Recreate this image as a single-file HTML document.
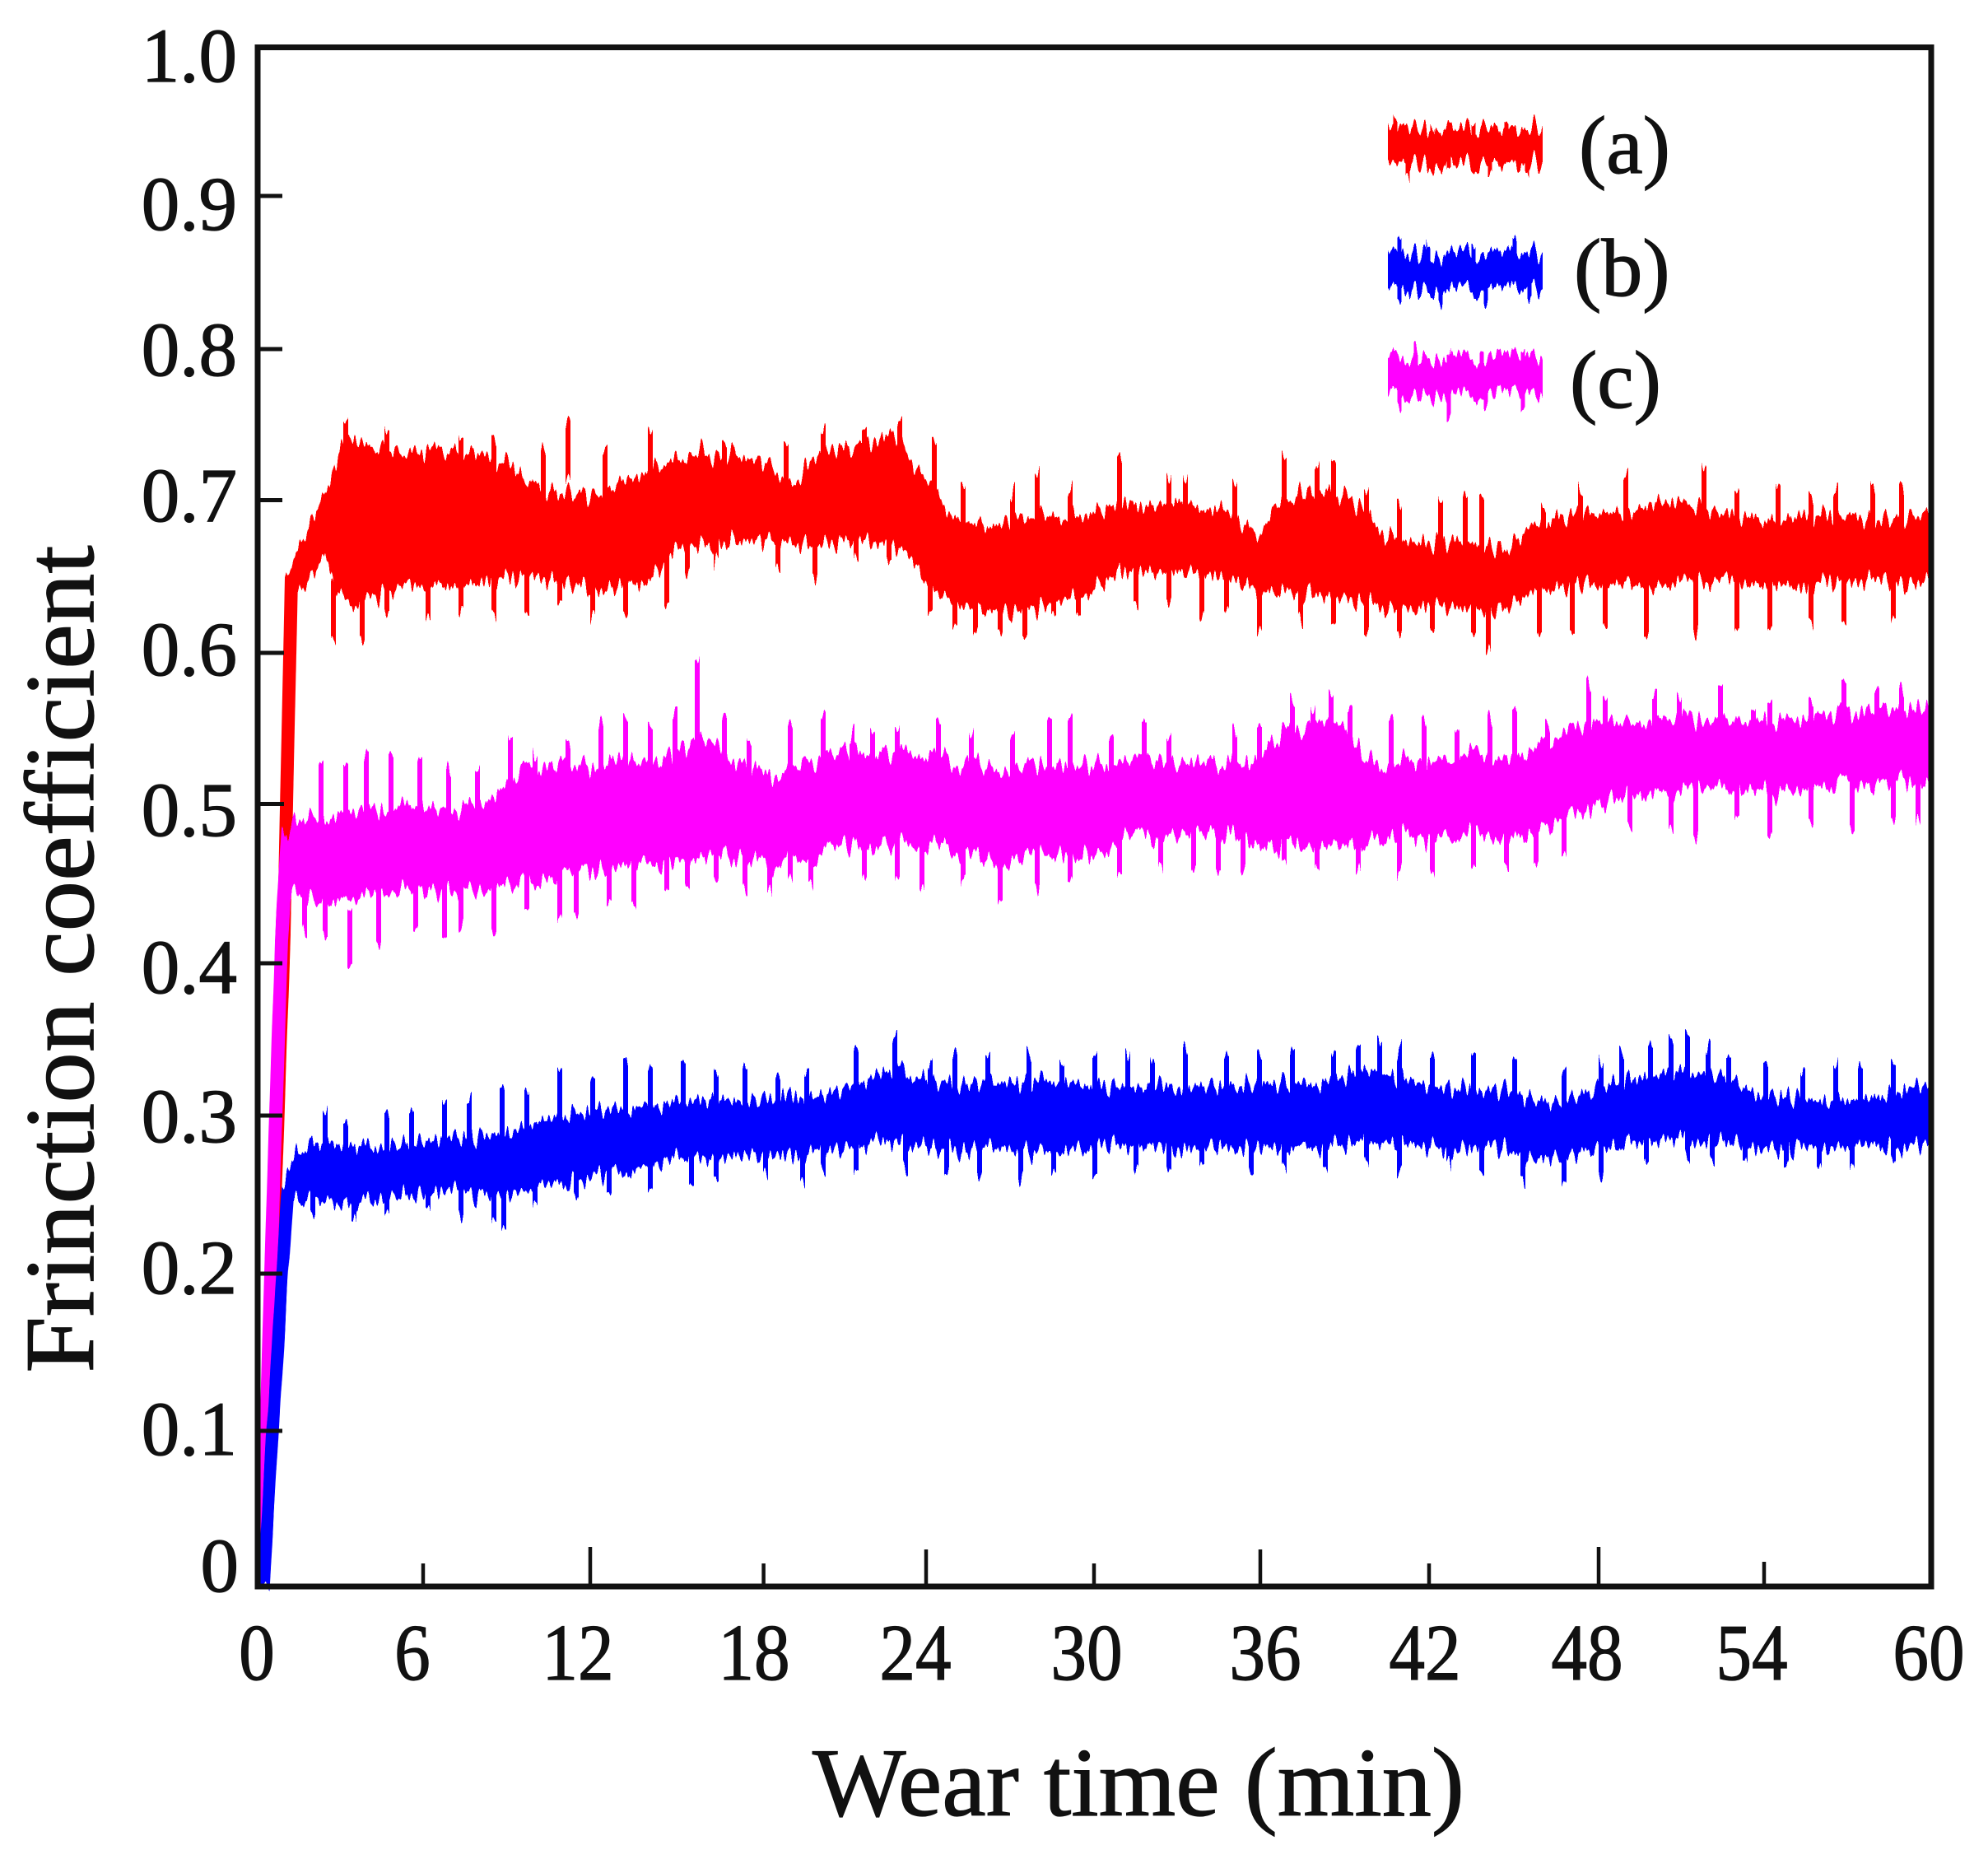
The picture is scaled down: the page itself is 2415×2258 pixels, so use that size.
<!DOCTYPE html>
<html>
<head>
<meta charset="utf-8">
<style>
  html, body { margin: 0; padding: 0; background: #ffffff; }
  body { width: 2415px; height: 2258px; overflow: hidden; }
  svg { display: block; }
  text { font-family: "Liberation Serif", "Times New Roman", serif; fill: #111; stroke: #111; stroke-width: 1.2; }
</style>
</head>
<body>
<svg xmlns="http://www.w3.org/2000/svg" width="2415" height="2258" viewBox="0 0 2415 2258">
  <defs>
    <filter id="jag" filterUnits="userSpaceOnUse" x="0" y="0" width="2415" height="2258" color-interpolation-filters="sRGB">
      <feTurbulence type="fractalNoise" baseFrequency="0.16 0.0015" numOctaves="2" seed="7" result="t"/>
      <feColorMatrix in="t" type="matrix" values="0 0 0 0 0.5  0 1 0 0 0  0 0 0 0 0  0 0 0 0 1" result="d"/>
      <feDisplacementMap in="SourceGraphic" in2="d" scale="52" xChannelSelector="R" yChannelSelector="G"/>
    </filter>
  </defs>
  <rect x="0" y="0" width="2415" height="2258" fill="#ffffff"/>

  <!-- ===== Series (a) red ===== -->
  <g filter="url(#jag)">
    <polyline points="318,1925 345,1130 354,700" fill="none" stroke="#ff0000" stroke-width="16" stroke-linejoin="round"/>
    <polygon fill="#ff0000" points="
      347,705 360,672 380,630 400,590 420,530 440,538 470,545 500,550 530,545 560,552 590,558 620,562 640,585 660,595 690,600 720,603 750,590 780,575 810,562 840,552 870,550 900,553 930,560 950,585 970,585 990,552 1020,545 1050,545 1075,528 1095,525 1110,575 1135,585 1150,625 1180,635 1210,640 1240,630 1270,625 1300,630 1340,618 1370,612 1400,615 1430,612 1460,615 1490,622 1515,640 1530,650 1550,615 1580,600 1610,598 1640,605 1660,625 1680,650 1710,658 1740,660 1770,657 1800,662 1830,668 1860,640 1890,630 1920,625 1950,622 1980,625 2010,612 2040,608 2070,618 2100,625 2130,630 2160,635 2190,628 2220,625 2250,628 2280,632 2310,630 2343,622
      2343,705 2310,712 2280,700 2250,710 2220,705 2190,715 2160,708 2130,712 2100,702 2070,710 2040,705 2010,715 1980,708 1950,712 1920,708 1890,715 1860,720 1830,735 1800,740 1770,738 1740,735 1710,742 1680,738 1650,730 1620,725 1590,722 1560,720 1530,718 1500,705 1470,700 1440,695 1410,698 1380,692 1350,700 1320,722 1290,730 1260,740 1230,745 1200,742 1170,735 1140,725 1120,700 1100,668 1070,660 1040,655 1010,660 990,665 960,660 930,655 900,658 870,660 840,665 820,668 790,705 760,712 730,718 700,710 670,705 640,700 610,703 580,708 550,712 520,710 490,712 460,725 430,735 410,720 395,672 372,712 362,718 350,720"/>
    <path fill="none" stroke="#ff0000" stroke-width="6" d="
      M420 510 V580 M470 520 V590 M560 525 V595 M600 530 V600 M660 545 V615 M690 520 V590 M735 545 V615 M790 522 V592 M880 530 V600 M955 540 V610 M1000 525 V595 M1050 530 V600 M1093 505 V575 M1135 530 V600 M1170 585 V655 M1230 595 V665 M1260 570 V640 M1300 600 V670 M1360 560 V630 M1420 575 V645 M1440 575 V645 M1500 585 V655 M1560 555 V625 M1600 562 V632 M1620 560 V630 M1660 595 V665 M1700 610 V680 M1750 610 V680 M1780 605 V675 M1800 600 V670 M1875 615 V685 M1920 595 V665 M1975 575 V645 M2070 565 V635 M2110 595 V665 M2160 585 V655 M2200 600 V670 M2230 595 V665 M2275 590 V660 M2310 595 V665
      M405 705 V775 M440 710 V780 M470 675 V745 M520 678 V748 M560 668 V738 M600 675 V745 M640 678 V748 M680 660 V730 M720 680 V750 M760 675 V745 M810 665 V735 M835 620 V690 M870 615 V685 M945 615 V685 M990 627 V697 M1040 610 V680 M1080 612 V682 M1130 675 V745 M1160 690 V760 M1185 700 V770 M1215 695 V765 M1245 705 V775 M1280 678 V748 M1310 675 V745 M1380 665 V735 M1420 660 V730 M1460 678 V748 M1490 670 V740 M1530 690 V760 M1580 680 V750 M1620 685 V755 M1660 695 V765 M1700 697 V767 M1740 690 V760 M1790 705 V775 M1808 722 V792 M1870 705 V775 M1910 700 V770 M1950 690 V760 M2000 700 V770 M2060 695 V765 M2110 695 V765 M2150 690 V760 M2200 685 V755 M2240 690 V760 M2300 680 V750"/>
  </g>

  <!-- ===== Series (c) magenta ===== -->
  <g filter="url(#jag)">
    <polyline points="318,1905 342,1130 350,1012" fill="none" stroke="#ff00ff" stroke-width="16" stroke-linejoin="round"/>
    <polygon fill="#ff00ff" points="
      343,1012 367,995 400,990 430,985 460,990 490,985 520,978 550,980 580,975 610,960 630,940 660,930 690,925 720,930 750,920 780,928 820,915 847,895 870,905 890,925 920,935 950,940 980,925 1010,915 1040,910 1070,915 1100,915 1130,920 1160,930 1190,928 1220,932 1250,930 1280,935 1310,930 1340,925 1370,925 1400,922 1430,928 1460,930 1490,930 1520,925 1550,895 1580,885 1610,875 1630,880 1650,905 1670,930 1700,925 1730,925 1760,920 1790,915 1820,915 1850,918 1870,905 1895,895 1910,880 1940,875 1970,878 2000,875 2030,872 2060,878 2090,880 2120,875 2150,872 2180,870 2210,870 2240,865 2270,862 2300,858 2343,860
      2343,950 2310,945 2280,955 2250,950 2220,958 2190,955 2160,962 2130,955 2100,965 2070,960 2040,968 2010,960 1980,965 1950,975 1920,980 1890,1000 1870,1010 1850,1018 1820,1015 1790,1012 1760,1015 1730,1018 1700,1015 1670,1020 1640,1025 1610,1030 1580,1025 1550,1028 1520,1020 1490,1018 1460,1015 1430,1012 1400,1018 1370,1015 1340,1035 1310,1040 1280,1042 1250,1040 1220,1045 1190,1040 1160,1038 1130,1030 1100,1028 1070,1025 1040,1028 1010,1030 980,1045 950,1048 920,1045 890,1042 860,1040 830,1045 800,1050 770,1050 740,1055 710,1055 680,1060 650,1070 620,1075 590,1080 560,1082 530,1080 500,1085 470,1090 440,1095 410,1092 380,1095 360,1090 345,1088"/>
    <path fill="none" stroke="#ff00ff" stroke-width="6" d="
      M390 925 V995 M420 930 V1000 M445 925 V995 M475 920 V990 M510 928 V998 M545 935 V1005 M580 930 V1000 M620 895 V965 M650 910 V980 M690 905 V975 M730 880 V950 M760 870 V940 M790 880 V950 M820 860 V930 M847 800 V900 M880 875 V945 M910 895 V965 M960 890 V960 M1000 870 V940 M1035 890 V960 M1060 880 V950 M1090 885 V955 M1140 880 V950 M1180 890 V960 M1230 890 V960 M1275 878 V948 M1300 875 V945 M1350 890 V960 M1390 880 V950 M1420 895 V965 M1500 895 V965 M1530 875 V945 M1570 855 V925 M1595 860 V930 M1617 843 V913 M1640 860 V930 M1690 875 V945 M1730 870 V940 M1770 880 V950 M1810 870 V940 M1840 863 V933 M1880 880 V950 M1930 830 V900 M1950 845 V915 M2010 840 V910 M2040 850 V920 M2090 840 V910 M2130 860 V930 M2150 845 V915 M2200 850 V920 M2240 835 V905 M2280 838 V908 M2310 842 V912
      M370 1060 V1130 M395 1065 V1135 M425 1105 V1175 M460 1080 V1150 M505 1060 V1130 M540 1070 V1140 M560 1050 V1120 M600 1060 V1130 M640 1040 V1110 M680 1048 V1118 M700 1035 V1105 M740 1020 V1090 M770 1030 V1100 M810 1015 V1085 M835 1000 V1070 M870 997 V1067 M905 1010 V1080 M935 1005 V1075 M960 1012 V1082 M985 1000 V1070 M1050 990 V1060 M1090 1003 V1073 M1120 1008 V1078 M1170 1000 V1070 M1215 1015 V1085 M1260 1010 V1080 M1300 1003 V1073 M1360 992 V1062 M1410 985 V1055 M1450 990 V1060 M1480 982 V1052 M1510 986 V1056 M1560 988 V1058 M1600 985 V1055 M1650 985 V1055 M1700 990 V1060 M1740 988 V1058 M1790 990 V1060 M1830 980 V1050 M1866 975 V1045 M1900 970 V1040 M1980 940 V1010 M2030 935 V1005 M2060 950 V1020 M2110 930 V1000 M2150 940 V1010 M2200 925 V995 M2250 930 V1000 M2300 920 V990 M2330 930 V1000"/>
  </g>

  <!-- ===== Series (b) blue ===== -->
  <g filter="url(#jag)">
    <polyline points="320,1925 342,1560 350,1440 362,1412" fill="none" stroke="#0000ff" stroke-width="15" stroke-linejoin="round"/>
    <polygon fill="#0000ff" points="
      346,1430 360,1398 380,1390 410,1388 440,1390 470,1392 500,1388 530,1385 560,1382 590,1380 620,1375 650,1365 680,1355 710,1350 740,1348 770,1345 800,1342 830,1338 860,1335 890,1338 920,1336 950,1330 980,1335 1010,1328 1040,1315 1070,1305 1090,1295 1110,1310 1140,1315 1170,1318 1200,1312 1230,1316 1260,1312 1290,1315 1320,1318 1350,1320 1380,1322 1410,1318 1440,1322 1470,1318 1500,1320 1530,1316 1560,1315 1590,1318 1620,1312 1650,1300 1680,1305 1710,1312 1740,1318 1770,1322 1800,1325 1830,1322 1860,1335 1890,1340 1920,1330 1950,1320 1980,1312 2010,1305 2040,1302 2070,1305 2100,1310 2130,1328 2160,1332 2190,1335 2220,1338 2250,1336 2280,1332 2310,1325 2343,1315
      2343,1390 2310,1395 2280,1390 2250,1392 2220,1395 2190,1392 2160,1398 2130,1395 2100,1385 2070,1388 2040,1380 2010,1385 1980,1388 1950,1395 1920,1400 1890,1405 1860,1410 1830,1395 1800,1392 1770,1398 1740,1395 1710,1390 1680,1388 1650,1385 1620,1390 1590,1395 1560,1392 1530,1398 1500,1395 1470,1392 1440,1398 1410,1395 1380,1390 1350,1392 1320,1395 1290,1400 1260,1398 1230,1400 1200,1395 1170,1398 1140,1392 1110,1390 1080,1385 1050,1390 1020,1395 990,1400 960,1405 930,1402 900,1405 870,1408 840,1405 810,1410 780,1418 750,1425 720,1430 690,1435 660,1440 630,1448 600,1452 570,1450 540,1448 510,1450 480,1452 450,1455 420,1460 390,1458 365,1455 352,1455"/>
    <path fill="none" stroke="#0000ff" stroke-width="6" d="
      M395 1350 V1410 M420 1365 V1425 M470 1350 V1410 M500 1345 V1405 M540 1335 V1395 M570 1340 V1400 M610 1320 V1380 M640 1325 V1385 M680 1300 V1360 M720 1310 V1370 M760 1290 V1350 M790 1300 V1360 M830 1290 V1350 M870 1300 V1360 M905 1295 V1355 M945 1305 V1365 M980 1298 V1358 M1040 1280 V1340 M1087 1258 V1318 M1130 1290 V1350 M1160 1280 V1340 M1200 1285 V1345 M1250 1280 V1340 M1290 1290 V1350 M1330 1280 V1340 M1370 1278 V1338 M1400 1288 V1348 M1440 1275 V1335 M1490 1285 V1345 M1530 1282 V1342 M1570 1275 V1335 M1620 1285 V1345 M1650 1270 V1330 M1676 1264 V1324 M1700 1275 V1335 M1740 1285 V1345 M1790 1280 V1340 M1840 1290 V1350 M1900 1300 V1360 M1945 1290 V1350 M1970 1275 V1335 M2005 1268 V1328 M2030 1262 V1322 M2050 1258 V1318 M2075 1275 V1335 M2100 1280 V1340 M2145 1290 V1350 M2190 1300 V1360 M2230 1295 V1355 M2260 1298 V1358 M2300 1290 V1350
      M380 1418 V1478 M430 1415 V1475 M470 1410 V1470 M520 1408 V1468 M560 1415 V1475 M600 1425 V1485 M612 1430 V1490 M650 1405 V1465 M700 1398 V1458 M740 1395 V1455 M790 1385 V1445 M840 1380 V1440 M870 1370 V1430 M930 1368 V1428 M975 1372 V1432 M1000 1360 V1420 M1040 1365 V1425 M1100 1358 V1418 M1150 1365 V1425 M1190 1360 V1420 M1240 1368 V1428 M1280 1365 V1425 M1330 1370 V1430 M1380 1358 V1418 M1420 1365 V1425 M1460 1355 V1415 M1520 1362 V1422 M1560 1358 V1418 M1610 1360 V1420 M1660 1358 V1418 M1700 1365 V1425 M1760 1355 V1415 M1800 1360 V1420 M1850 1370 V1430 M1900 1372 V1432 M1945 1365 V1425 M2000 1355 V1415 M2050 1345 V1405 M2080 1350 V1410 M2120 1350 V1410 M2170 1360 V1420 M2210 1355 V1415 M2250 1358 V1418 M2300 1352 V1412"/>
  </g>

  <!-- ===== Legend swatches ===== -->
  <g filter="url(#jag)">
    <rect x="1686" y="157" width="188" height="44" fill="#ff0000"/>
    <path fill="none" stroke="#ff0000" stroke-width="5" d="M1695 145 V170 M1740 148 V170 M1790 143 V170 M1830 150 V170 M1710 190 V215 M1760 190 V212 M1810 190 V214 M1855 190 V210"/>
    <rect x="1686" y="309" width="188" height="44" fill="#0000ff"/>
    <path fill="none" stroke="#0000ff" stroke-width="5" d="M1700 292 V320 M1735 295 V320 M1790 292 V320 M1840 296 V320 M1700 345 V368 M1750 345 V362 M1805 345 V366 M1858 345 V368"/>
    <rect x="1686" y="435" width="188" height="46" fill="#ff00ff"/>
    <path fill="none" stroke="#ff00ff" stroke-width="5" d="M1720 424 V445 M1760 426 V445 M1800 424 V445 M1850 426 V445 M1700 470 V495 M1760 470 V502 M1805 470 V490 M1850 470 V497"/>
  </g>
  <text x="1918" y="210" font-size="100">(a)</text>
  <text x="1912" y="359" font-size="100">(b)</text>
  <text x="1907" y="495" font-size="100">(c)</text>

  <!-- ===== Axes frame ===== -->
  <rect x="313" y="57.5" width="2033" height="1869.5" fill="none" stroke="#111" stroke-width="7"/>

  <!-- Y ticks -->
  <path stroke="#111" stroke-width="5" fill="none" d="
    M313 238 H343 M313 424 H343 M313 607.5 H343 M313 793 H345 M313 976.5 H345
    M313 1170 H343 M313 1355 H343 M313 1547 H343 M313 1738 H343"/>
  <!-- X ticks -->
  <path stroke="#111" stroke-width="4.5" fill="none" d="
    M514 1927 V1899 M927.6 1927 V1899 M1329 1927 V1899 M1736 1927 V1899 M2143 1927 V1897
    M717 1927 V1879 M1125 1927 V1882 M1531 1927 V1882 M1942 1927 V1879"/>

  <!-- Y tick labels -->
  <g font-size="93" text-anchor="end">
    <text x="288" y="99">1.0</text>
    <text x="288" y="279">0.9</text>
    <text x="288" y="456">0.8</text>
    <text x="288" y="633">0.7</text>
    <text x="288" y="820">0.6</text>
    <text x="288" y="1015">0.5</text>
    <text x="288" y="1206">0.4</text>
    <text x="288" y="1387">0.3</text>
    <text x="288" y="1571">0.2</text>
    <text x="288" y="1767">0.1</text>
    <text x="290" y="1933">0</text>
  </g>

  <!-- X tick labels -->
  <g font-size="97" text-anchor="middle">
    <text transform="translate(312,2040) scale(0.9,1)">0</text>
    <text transform="translate(501,2040) scale(0.9,1)">6</text>
    <text transform="translate(702,2040) scale(0.9,1)">12</text>
    <text transform="translate(916,2040) scale(0.9,1)">18</text>
    <text transform="translate(1112,2040) scale(0.9,1)">24</text>
    <text transform="translate(1320,2040) scale(0.9,1)">30</text>
    <text transform="translate(1537,2040) scale(0.9,1)">36</text>
    <text transform="translate(1731,2040) scale(0.9,1)">42</text>
    <text transform="translate(1928,2040) scale(0.9,1)">48</text>
    <text transform="translate(2128,2040) scale(0.9,1)">54</text>
    <text transform="translate(2343,2040) scale(0.9,1)">60</text>
  </g>

  <!-- Axis titles -->
  <text x="1383" y="2205" font-size="119" text-anchor="middle" textLength="792" lengthAdjust="spacingAndGlyphs">Wear time (min)</text>
  <text transform="translate(113,1165) rotate(-90)" font-size="120" text-anchor="middle" textLength="1005" lengthAdjust="spacingAndGlyphs">Frinction coefficient</text>
</svg>
</body>
</html>
